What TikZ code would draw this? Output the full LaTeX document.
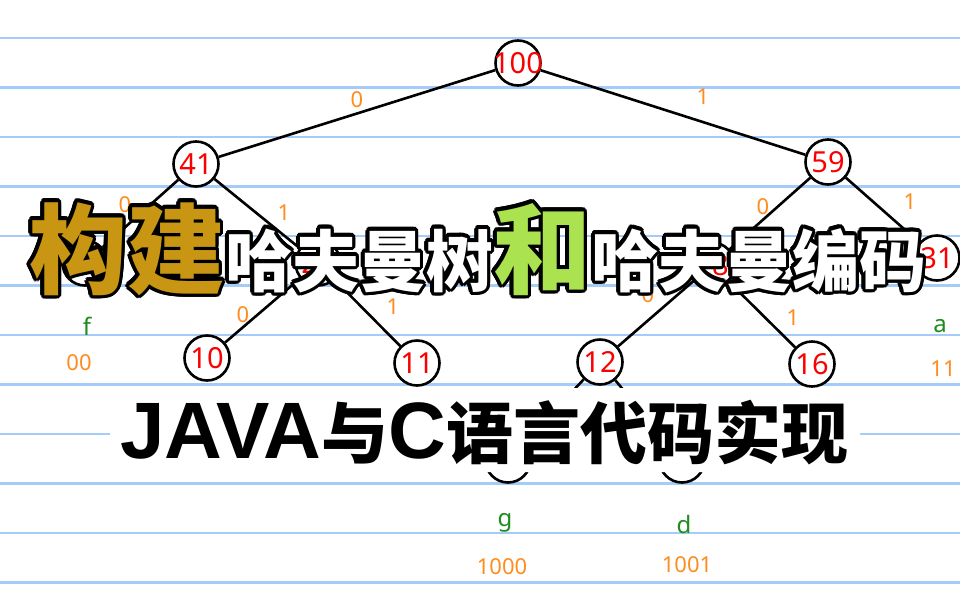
\documentclass[tikz,border=0pt]{standalone}
\usepackage{fontspec}
\usepackage{tikz}
\setmainfont{Noto Sans}
\newfontfamily\latinfont{Liberation Sans}
\newfontfamily\cjkfont{Noto Sans CJK SC}
\definecolor{ruleblue}{RGB}{165,204,248}
\definecolor{numred}{RGB}{250,0,0}
\definecolor{bitorange}{RGB}{255,140,30}
\definecolor{lettergreen}{RGB}{30,140,30}
\definecolor{titlegold}{RGB}{200,150,18}
\definecolor{titlegreen}{RGB}{170,226,80}

\newcommand\headline[3]{%
  {\color{#1}\fontsize{98}{98}\selectfont 构建}%
  {\color{#2}\fontsize{67}{67}\selectfont 哈夫曼树}%
  {\color{#3}\fontsize{98}{98}\selectfont 和}%
  {\color{#2}\fontsize{67}{67}\selectfont 哈夫曼编码}}

\begin{document}
\begin{tikzpicture}[
  x=1pt, y=-1pt,
  ruleline/.style={
    line width=2.5pt,
    draw=ruleblue,
  },
  weight node/.style={
    circle, draw=black, fill=white,
    line width=2.6pt,
    minimum size=45pt,
    inner sep=-7pt,
    text=numred,
    font=\fontsize{29}{29}\selectfont,
  },
  edge line/.style={
    line width=2.6pt,
    draw=black,
  },
  bit label/.style={
    inner sep=0pt,
    text=bitorange,
    font=\fontsize{22}{22}\selectfont,
  },
  leaf letter/.style={
    inner sep=0pt,
    text=lettergreen,
    font=\fontsize{24}{24}\selectfont,
  },
  title row/.style={
    anchor=base west,
    inner sep=0pt,
    font=\cjkfont\bfseries,
  },
  ]
  \useasboundingbox (0,0) rectangle (960,600);
  \fill [white] (0,0) rectangle (960,600);
  \foreach \i in {0,...,11}
    \draw [ruleline] (0,{38+49.5*\i}) -- (960,{38+49.5*\i});

  % weights
  \node [weight node] (n100) at (518,63) {100};
  \node [weight node] (n41) at (196,164) {41};
  \node [weight node] (n59) at (828,162) {59};
  \node [weight node] (n20) at (85,263) {20};
  \node [weight node] (n21) at (318,263) {21};
  \node [weight node] (n28) at (712,265) {28};
  \node [weight node] (n31) at (937,258) {31};
  \node [weight node] (n10) at (207,358) {10};
  \node [weight node] (n11) at (417,363) {11};
  \node [weight node] (n12) at (600,362) {12};
  \node [weight node] (n16) at (812,364) {16};
  \node [weight node] (ng) at (508,460) {};
  \node [weight node] (nd) at (682,460) {};
  \foreach \from/\to in {n100/n41, n100/n59, n41/n20, n41/n21, n59/n28, n59/n31,
    n21/n10, n21/n11, n28/n12, n28/n16, n12/ng, n12/nd}
    \draw [edge line] (\from) -- (\to);

  % bits on the edges
  \node [bit label] (bit-100-41) at (357,100) {0};
  \node [bit label] (bit-100-59) at (703,97) {1};
  \node [bit label] (bit-41-20) at (125,205) {0};
  \node [bit label] (bit-41-21) at (284,213) {1};
  \node [bit label] (bit-59-28) at (763,207) {0};
  \node [bit label] (bit-59-31) at (910,202) {1};
  \node [bit label] (bit-21-10) at (243,315) {0};
  \node [bit label] (bit-21-11) at (393,307) {1};
  \node [bit label] (bit-28-12) at (648,295) {0};
  \node [bit label] (bit-28-16) at (793,318) {1};

  % leaves and codes
  \node [leaf letter] (letter-f) at (87,326) {f};
  \node [bit label] (code-f) at (79,363) {00};
  \node [leaf letter] (letter-a) at (940,326) {a};
  \node [bit label] (code-a) at (943,369) {11};
  \node [leaf letter] (letter-g) at (505,523) {g};
  \node [bit label] (code-g) at (502,567) {1000};
  \node [leaf letter] (letter-d) at (684,524) {d};
  \node [bit label] (code-d) at (687,565) {1001};

  % subtitle on white
  \fill [white, rounded corners=8pt] (110,388) rectangle (860,472);
  \node [anchor=base west, inner sep=0pt] (subtitle) at (120,458)
  {{\latinfont\bfseries\fontsize{80}{80}\selectfont JAVA}%
    {\cjkfont\bfseries\fontsize{67}{67}\selectfont 与}%
    {\latinfont\bfseries\fontsize{80}{80}\selectfont C}%
    {\cjkfont\bfseries\fontsize{67}{67}\selectfont 语言代码实现}};

  % title with outline
  \coordinate (title-pos) at (29,286);
  \foreach \ang in {0,24,...,336}
    \node [title row] (title-edge-\ang) at ([shift={(\ang:3.5)}]title-pos)
    {\headline{black}{black}{black}};
  \node [title row] (title) at (title-pos)
  {\headline{titlegold}{white}{titlegreen}};
\end{tikzpicture}
\end{document}
